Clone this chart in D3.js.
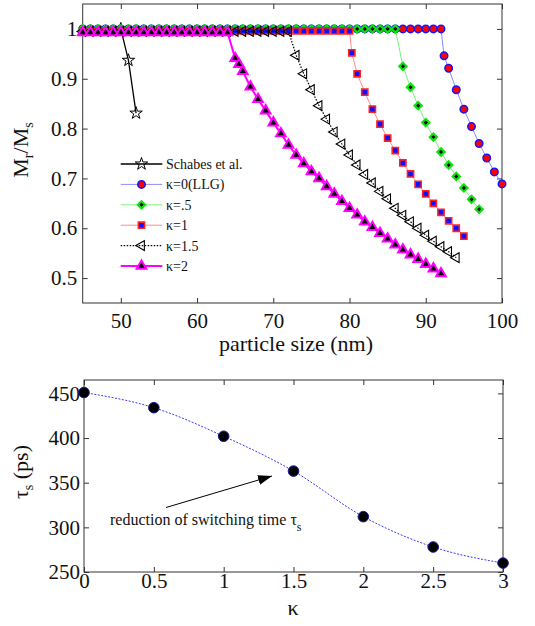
<!DOCTYPE html>
<html>
<head>
<meta charset="utf-8">
<script src="https://cdn.jsdelivr.net/npm/d3@7"></script>
<style>
body { margin: 0; background: #fff; }
</style>
</head>
<body>
<svg width="535" height="626"></svg>
<script>
/************************** DATA **************************/
// top panel: remanence ratio vs particle size, one pair of arrays per curve
var sizeSchabes = [50, 51, 52];
var mrSchabes   = [1, 0.937, 0.831];

var sizeK0 = [45,46,47,48,49,50,51,52,53,54,
              55,56,57,58,59,60,61,62,63,64,
              65,66,67,68,69,70,71,72,73,74,
              75,76,77,78,79,80,81,82,83,84,
              85,86,87,88,89,90,91,92,92.4,
              93,94,95,96,97,98,99,100];
var mrK0 = [1,1,1,1,1,1,1,1,1,1,
            1,1,1,1,1,1,1,1,1,1,
            1,1,1,1,1,1,1,1,1,1,
            1,1,1,1,1,1,1,1,1,1,
            1,1,1,1,1,1,1,1,0.946,
            0.921,0.878,0.839,0.804,0.770,0.741,0.713,0.689];

var sizeK05 = [45,46,47,48,49,50,51,52,53,54,
               55,56,57,58,59,60,61,62,63,64,
               65,66,67,68,69,70,71,72,73,74,
               75,76,77,78,79,80,81,82,83,84,
               85,86,
               87,88,89,90,91,92,93,94,95,96,97];
var mrK05 = [1,1,1,1,1,1,1,1,1,1,
             1,1,1,1,1,1,1,1,1,1,
             1,1,1,1,1,1,1,1,1,1,
             1,1,1,1,1,1,1,1,1,1,
             1,1,
             0.925,0.883,0.846,0.812,0.783,0.753,0.727,0.704,0.681,0.658,0.638];

var sizeK1 = [45,46,47,48,49,50,51,52,53,54,
              55,56,57,58,59,60,61,62,63,64,
              65,66,67,68,69,70,71,72,73,74,
              75,76,77,78,79,80,80.3,
              81,82,83,84,85,86,87,88,89,90,91,92,93,94,95];
var mrK1 = [0.996,0.996,0.996,0.996,0.996,0.996,0.996,0.996,0.996,0.996,
            0.996,0.996,0.996,0.996,0.996,0.996,0.996,0.996,0.996,0.996,
            0.996,0.996,0.996,0.996,0.996,0.996,0.996,0.996,0.996,0.996,
            0.996,0.996,0.996,0.996,0.996,0.996,0.952,
            0.910,0.873,0.839,0.809,0.781,0.756,0.731,0.709,0.688,0.669,0.650,0.632,0.615,0.600,0.584];

var sizeK15 = [45,46,47,48,49,50,51,52,53,54,
               55,56,57,58,59,60,61,62,63,64,
               65,66,67,68,69,70,71,72,
               73,74,75,76,77,78,79,80,81,82,83,84,85,86,87,88,89,90,91,92,93,94];
var mrK15 = [0.995,0.995,0.995,0.995,0.995,0.995,0.995,0.995,0.995,0.995,
             0.995,0.995,0.995,0.995,0.995,0.995,0.995,0.995,0.995,0.995,
             0.995,0.995,0.995,0.995,0.995,0.995,0.995,0.995,
             0.947,0.910,0.878,0.846,0.819,0.793,0.769,0.747,0.727,0.708,0.691,
             0.674,0.659,0.640,0.626,0.613,0.600,0.586,0.574,0.563,0.553,0.541];

var sizeK2 = [45,46,47,48,49,50,51,52,53,54,
              55,56,57,58,59,60,61,62,63,64,
              65,65.5,
              66,67,68,69,70,71,72,73,74,75,76,77,78,79,
              80,81,82,83,84,85,86,87,88,89,90,91,92];
var mrK2 = [0.993,0.993,0.993,0.993,0.993,0.993,0.993,0.993,0.993,0.993,
            0.993,0.993,0.993,0.993,0.993,0.993,0.993,0.993,0.993,0.993,
            0.941,0.929,
            0.915,0.884,0.859,0.836,0.812,0.790,0.767,0.747,0.730,0.714,0.700,0.684,0.669,0.654,
            0.640,0.627,0.613,0.602,0.590,0.579,0.567,0.557,0.547,0.538,0.528,0.519,0.509];

var legendLabels = ["Schabes et al.", "\u03ba=0(LLG)", "\u03ba=.5", "\u03ba=1", "\u03ba=1.5", "\u03ba=2"];

// bottom panel: switching time vs damping exponent
var kappa = [0, 0.5, 1, 1.5, 2, 2.5, 3];
var tau   = [451, 434, 402, 363, 312, 278, 260];

// tick labels
var sizeTicks  = [50, 60, 70, 80, 90, 100];
var mrTicks    = [0.5, 0.6, 0.7, 0.8, 0.9, 1];
var kappaTicks = [0, 0.5, 1, 1.5, 2, 2.5, 3];
var tauTicks   = [250, 300, 350, 400, 450];

/************************** LAYOUT **************************/
var FONT = "Liberation Serif";
var svg = d3.select("svg");

var boxA = {l: 82.7, t: 4, r: 502, b: 303};   // top panel frame
var boxB = {l: 84, t: 380, r: 503, b: 572};   // bottom panel frame

var xA = d3.scaleLinear().domain([45, 100]).range([boxA.l, boxA.r]);
var yA = d3.scaleLinear().domain([0.45, 1.05]).range([boxA.b, boxA.t]);
var xB = d3.scaleLinear().domain([0, 3]).range([boxB.l, boxB.r]);
var yB = d3.scaleLinear().domain([250, 465]).range([boxB.b, boxB.t]);

// MATLAB style box: inward ticks on all four sides, labels only bottom/left
var drawAxes = function(box, x, y, xTicks, yTicks, xPad, yPad) {
  var g = svg.append("g");
  g.append("g").attr("transform", "translate(0," + box.b + ")")
    .call(d3.axisBottom(x).tickValues(xTicks).tickSize(-5).tickPadding(xPad).tickFormat(String));
  g.append("g").attr("transform", "translate(0," + box.t + ")")
    .call(d3.axisTop(x).tickValues(xTicks).tickSize(-5).tickFormat(""));
  g.append("g").attr("transform", "translate(" + box.l + ",0)")
    .call(d3.axisLeft(y).tickValues(yTicks).tickSize(-5).tickPadding(yPad).tickFormat(String));
  g.append("g").attr("transform", "translate(" + box.r + ",0)")
    .call(d3.axisRight(y).tickValues(yTicks).tickSize(-5).tickFormat(""));
  g.selectAll("g").attr("font-family", FONT);
  g.selectAll(".domain").remove();
  g.selectAll(".tick line").attr("stroke", "#333");
  g.selectAll(".tick text")
    .attr("font-family", FONT)
    .attr("font-size", 21)
    .attr("fill", "#111");
  g.append("rect")
    .attr("x", box.l).attr("y", box.t)
    .attr("width", box.r - box.l).attr("height", box.b - box.t)
    .attr("fill", "none").attr("stroke", "#333").attr("stroke-width", 1);
};

drawAxes(boxA, xA, yA, sizeTicks, mrTicks, 10, 5.5);
drawAxes(boxB, xB, yB, kappaTicks, tauTicks, 1.5, 4);

/************************** TOP PANEL CURVES **************************/
var curves = [
  {xs: sizeSchabes, ys: mrSchabes},
  {xs: sizeK0,      ys: mrK0},
  {xs: sizeK05,     ys: mrK05},
  {xs: sizeK1,      ys: mrK1},
  {xs: sizeK15,     ys: mrK15},
  {xs: sizeK2,      ys: mrK2}
];

// line + marker styles, same order as curves
var looks = [
  {stroke: "#000", width: 1.3, dash: null, sym: d3.symbolStar, size: 48, rot: 0,
   mFill: "none", mStroke: "#000", mWidth: 1},
  {stroke: "#8c8cff", width: 1, dash: null, sym: d3.symbolCircle, size: 44, rot: 0,
   mFill: "#ff0000", mStroke: "#1515ff", mWidth: 1.5},
  {stroke: "#7cf07c", width: 1, dash: null, sym: d3.symbolSquare, size: 26, rot: 45,
   mFill: "#000", mStroke: "#10e010", mWidth: 2.2},
  {stroke: "#ff8c8c", width: 1, dash: null, sym: d3.symbolSquare, size: 38, rot: 0,
   mFill: "#1010ff", mStroke: "#ff2020", mWidth: 1.6},
  {stroke: "#000", width: 1.2, dash: "1.5,1.5", sym: d3.symbolTriangle, size: 42, rot: -90,
   mFill: "none", mStroke: "#000", mWidth: 1.1},
  {stroke: "#ff00ff", width: 2, dash: null, sym: d3.symbolTriangle, size: 40, rot: 0,
   mFill: "#000", mStroke: "#ff00ff", mWidth: 2}
];

var lineA = d3.line()
  .x(function(d) { return xA(d[0]); })
  .y(function(d) { return yA(d[1]); });

var plotA = svg.append("g");
curves.forEach(function(c, i) {
  var lk = looks[i];
  var pts = d3.zip(c.xs, c.ys);
  plotA.append("path")
    .attr("d", lineA(pts))
    .attr("fill", "none")
    .attr("stroke", lk.stroke)
    .attr("stroke-width", lk.width)
    .attr("stroke-dasharray", lk.dash);
  plotA.append("g").selectAll("path")
    .data(pts)
    .enter().append("path")
    .attr("d", d3.symbol(lk.sym, lk.size))
    .attr("transform", function(d) {
      return "translate(" + xA(d[0]) + "," + yA(d[1]) + ") rotate(" + lk.rot + ")";
    })
    .attr("fill", lk.mFill)
    .attr("stroke", lk.mStroke)
    .attr("stroke-width", lk.mWidth);
});

// legend (no box, like the original)
var legX0 = 120.7, legX1 = 162.3, legY0 = 164, legDy = 20.4;
var legend = svg.append("g");
legendLabels.forEach(function(lab, i) {
  var lk = looks[i];
  var yy = legY0 + i * legDy;
  legend.append("line")
    .attr("x1", legX0).attr("x2", legX1).attr("y1", yy).attr("y2", yy)
    .attr("stroke", lk.stroke).attr("stroke-width", lk.width)
    .attr("stroke-dasharray", lk.dash);
  legend.append("path")
    .attr("d", d3.symbol(lk.sym, lk.size))
    .attr("transform", "translate(" + (legX0 + legX1) / 2 + "," + yy + ") rotate(" + lk.rot + ")")
    .attr("fill", lk.mFill).attr("stroke", lk.mStroke).attr("stroke-width", lk.mWidth);
  legend.append("text")
    .attr("x", 166).attr("y", yy).attr("dy", "0.35em")
    .attr("font-family", FONT).attr("font-size", 14).attr("fill", "#111")
    .text(lab);
});

// axis labels, top panel
svg.append("text")
  .attr("x", 296).attr("y", 351)
  .attr("text-anchor", "middle")
  .attr("font-family", FONT).attr("font-size", 22).attr("fill", "#111")
  .text("particle size (nm)");

var ylabA = svg.append("text")
  .attr("transform", "translate(28,150) rotate(-90)")
  .attr("text-anchor", "middle")
  .attr("font-family", FONT).attr("font-size", 22).attr("fill", "#111");
ylabA.append("tspan").text("M");
ylabA.append("tspan").attr("dy", 5).attr("font-size", 14).text("r");
ylabA.append("tspan").attr("dy", -5).text("/M");
ylabA.append("tspan").attr("dy", 5).attr("font-size", 14).text("s");

/************************** BOTTOM PANEL **************************/
var lineB = d3.line()
  .x(function(d) { return xB(d[0]); })
  .y(function(d) { return yB(d[1]); })
  .curve(d3.curveMonotoneX);

var ptsB = d3.zip(kappa, tau);
svg.append("path")
  .attr("d", lineB(ptsB))
  .attr("fill", "none")
  .attr("stroke", "#3a3aff")
  .attr("stroke-width", 1)
  .attr("stroke-dasharray", "2,1.5");

svg.append("g").selectAll("circle")
  .data(ptsB)
  .enter().append("circle")
  .attr("cx", function(d) { return xB(d[0]); })
  .attr("cy", function(d) { return yB(d[1]); })
  .attr("r", 5.3)
  .attr("fill", "#000")
  .attr("stroke", "#1a1a90")
  .attr("stroke-width", 1);

// annotation arrow
svg.append("defs").append("marker")
  .attr("id", "head")
  .attr("markerUnits", "userSpaceOnUse")
  .attr("markerWidth", 14).attr("markerHeight", 10)
  .attr("refX", 14).attr("refY", 5)
  .attr("orient", "auto")
  .append("path").attr("d", "M0,0 L14,5 L0,10 Z").attr("fill", "#000");

svg.append("line")
  .attr("x1", 166).attr("y1", 507.5).attr("x2", 272).attr("y2", 476)
  .attr("stroke", "#000").attr("stroke-width", 1)
  .attr("marker-end", "url(#head)");

var note = svg.append("text")
  .attr("x", 110).attr("y", 524.5)
  .attr("font-family", FONT).attr("font-size", 16).attr("fill", "#111");
note.append("tspan").text("reduction of switching time \u03c4");
note.append("tspan").attr("dy", 6).attr("font-size", 12).text("s");

svg.append("text")
  .attr("x", 293).attr("y", 615)
  .attr("text-anchor", "middle")
  .attr("font-family", FONT).attr("font-size", 22).attr("fill", "#111")
  .text("\u03ba");

var ylabB = svg.append("text")
  .attr("transform", "translate(28,472) rotate(-90)")
  .attr("text-anchor", "middle")
  .attr("font-family", FONT).attr("font-size", 22).attr("fill", "#111");
ylabB.append("tspan").text("\u03c4");
ylabB.append("tspan").attr("dy", 5).attr("font-size", 14).text("s");
ylabB.append("tspan").attr("dy", -5).text(" (ps)");
</script>
</body>
</html>
